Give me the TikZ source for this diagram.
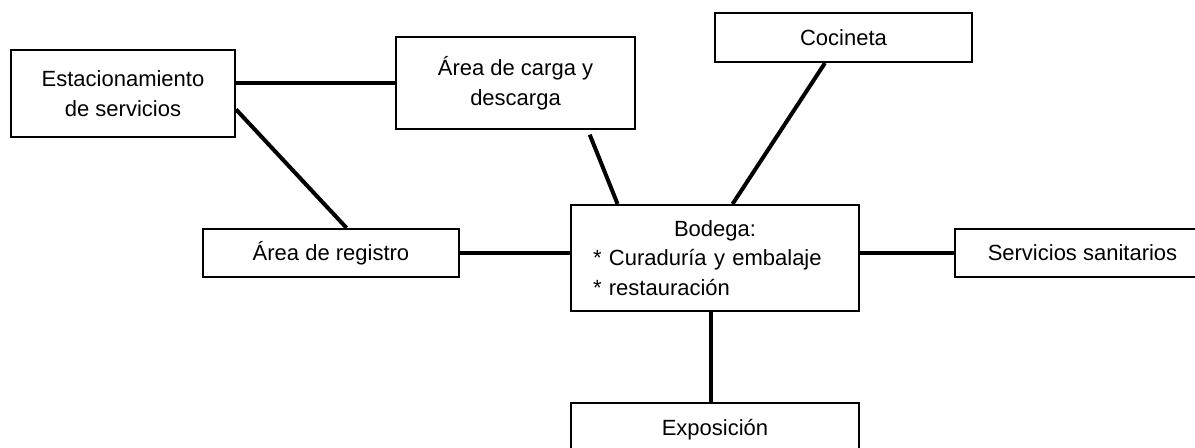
\documentclass[tikz,border=0pt]{standalone}
\usepackage{fontspec}
\setmainfont{Liberation Sans}
\usepackage{tikz}

\begin{document}
\begin{tikzpicture}[x=0.5pt,y=-0.5pt]
  \useasboundingbox (0,0) rectangle (1195,447);

  \begin{scope}[shape=rectangle]
  \tikzstyle{every node}=[draw, line width=1pt, inner sep=0pt, align=center, font=\fontsize{11}{14.75}\selectfont]
  \node[minimum width=112pt, minimum height=43.5pt] (est) at (123, 93.5) {Estacionamiento\\de servicios};
  \node[minimum width=119.5pt, minimum height=46pt] (carga) at (515.5, 83) {Área de carga y\\descarga};
  \node[minimum width=128.5pt, minimum height=24.5pt] (coc) at (843.5, 37.5) {Cocineta};
  \node[minimum width=128pt, minimum height=24pt] (reg) at (331, 253) {Área de registro};
  \node[minimum width=144pt, minimum height=53pt, text width=122pt, align=left] (bod) at (715, 258) {\makebox[122pt]{Bodega:}\\{*} Curaduría y embalaje\\{*} restauración};
  \node[minimum width=127.5pt, minimum height=24pt] (san) at (1082.5, 253) {Servicios sanitarios};
  \node[minimum width=144pt, minimum height=27pt] (expo) at (715, 430) {Exposición};
  \end{scope}

  \begin{scope}[line width=2pt]
    \draw (est.east |- carga.west) -- (carga.west);
    \draw (est.-8) -- (reg.58);
    \draw[shorten <=2.5pt] (carga.-33) -- (bod.151);
    \draw (coc.234) -- (bod.72);
    \draw (reg.east) -- (reg.east -| bod.west);
    \draw (san.west -| bod.east) -- (san.west);
    \draw ([xshift=-2pt]bod.south) -- ([xshift=-2pt]bod.south |- expo.north);
  \end{scope}

\end{tikzpicture}
\end{document}
